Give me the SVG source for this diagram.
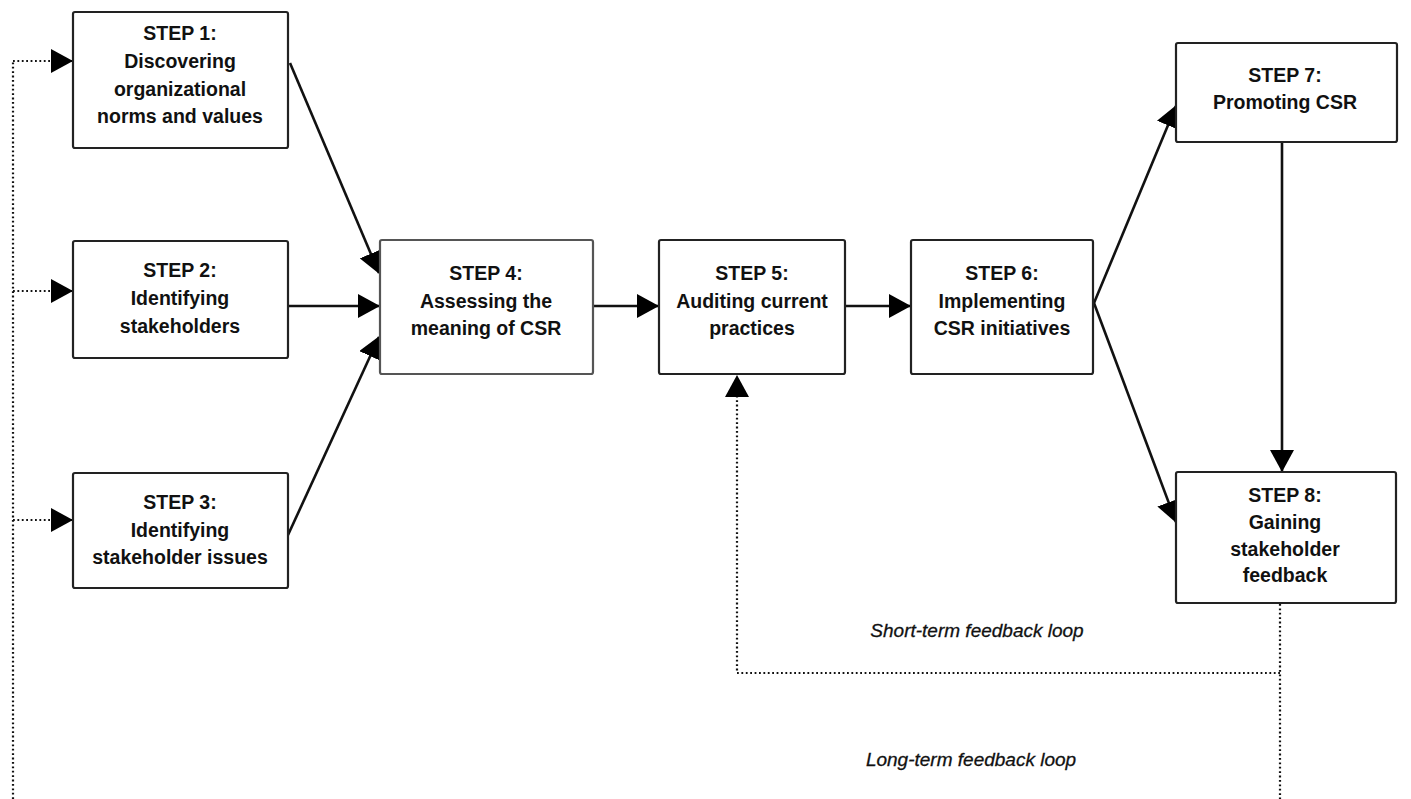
<svg xmlns="http://www.w3.org/2000/svg" width="1411" height="799" viewBox="0 0 1411 799">
<style>
.box{fill:#fff;stroke:#222;stroke-width:2.2}
.t{font-family:"Liberation Sans",Arial,sans-serif;font-size:19.5px;font-weight:bold;fill:#111;text-anchor:middle}
.lbl{font-family:"Liberation Sans",Arial,sans-serif;font-size:19px;font-style:italic;fill:#111;text-anchor:middle;stroke:#111;stroke-width:0.3}
.solid{stroke:#111;stroke-width:2.6;fill:none}
.dot{stroke:#111;stroke-width:2.2;fill:none;stroke-dasharray:1.8 2.6}
</style>
<defs>
<marker id="ah" markerUnits="userSpaceOnUse" viewBox="0 0 22 24" refX="21" refY="12" markerWidth="22" markerHeight="24" orient="auto">
<path d="M0,0 L22,12 L0,24 z" fill="#000"/>
</marker>
</defs>
<rect width="1411" height="799" fill="#fff"/>
<g id="connectors">
<line class="solid" x1="290" y1="63" x2="379" y2="273" marker-end="url(#ah)"/>
<line class="solid" x1="288" y1="306" x2="379" y2="306" marker-end="url(#ah)"/>
<line class="solid" x1="288" y1="535" x2="379" y2="337" marker-end="url(#ah)"/>
<line class="solid" x1="593" y1="306" x2="658" y2="306" marker-end="url(#ah)"/>
<line class="solid" x1="845" y1="306" x2="910" y2="306" marker-end="url(#ah)"/>
<line class="solid" x1="1094" y1="303" x2="1176" y2="106" marker-end="url(#ah)"/>
<line class="solid" x1="1094" y1="303" x2="1176" y2="522" marker-end="url(#ah)"/>
<line class="solid" x1="1282" y1="142" x2="1282" y2="471" marker-end="url(#ah)"/>
<path class="dot" d="M1280,673 H737 V376" marker-end="url(#ah)"/>
<path class="dot" d="M1280,604 V799"/>
<path class="dot" d="M13,799 V61"/>
<path class="dot" d="M13,61 H72" marker-end="url(#ah)"/>
<path class="dot" d="M13,291 H72" marker-end="url(#ah)"/>
<path class="dot" d="M13,520 H72" marker-end="url(#ah)"/>
</g>
<g id="step1"><rect class="box" x="73" y="12" width="215" height="136" rx="2"/>
<text class="t" x="180" y="40">STEP 1:</text><text class="t" x="180" y="68">Discovering</text><text class="t" x="180" y="96">organizational</text><text class="t" x="180" y="123">norms and values</text></g>
<g id="step2"><rect class="box" x="73" y="241" width="215" height="117" rx="2"/>
<text class="t" x="180" y="277">STEP 2:</text><text class="t" x="180" y="305">Identifying</text><text class="t" x="180" y="333">stakeholders</text></g>
<g id="step3"><rect class="box" x="73" y="473" width="215" height="115" rx="2"/>
<text class="t" x="180" y="509">STEP 3:</text><text class="t" x="180" y="537">Identifying</text><text class="t" x="180" y="564">stakeholder issues</text></g>
<g id="step4"><rect class="box" x="380" y="240" width="213" height="134" rx="2" style="stroke:#555"/>
<text class="t" x="486" y="280">STEP 4:</text><text class="t" x="486" y="308">Assessing the</text><text class="t" x="486" y="335">meaning of CSR</text></g>
<g id="step5"><rect class="box" x="659" y="240" width="186" height="134" rx="2"/>
<text class="t" x="752" y="280">STEP 5:</text><text class="t" x="752" y="308">Auditing current</text><text class="t" x="752" y="335">practices</text></g>
<g id="step6"><rect class="box" x="911" y="240" width="182" height="134" rx="2"/>
<text class="t" x="1002" y="280">STEP 6:</text><text class="t" x="1002" y="308">Implementing</text><text class="t" x="1002" y="335">CSR initiatives</text></g>
<g id="step7"><rect class="box" x="1176" y="43" width="221" height="99" rx="2"/>
<text class="t" x="1285" y="82">STEP 7:</text><text class="t" x="1285" y="109">Promoting CSR</text></g>
<g id="step8"><rect class="box" x="1176" y="472" width="220" height="131" rx="2"/>
<text class="t" x="1285" y="502">STEP 8:</text><text class="t" x="1285" y="529">Gaining</text><text class="t" x="1285" y="556">stakeholder</text><text class="t" x="1285" y="582">feedback</text></g>
<text class="lbl" x="977" y="637">Short-term feedback loop</text>
<text class="lbl" x="971" y="766">Long-term feedback loop</text>
</svg>
